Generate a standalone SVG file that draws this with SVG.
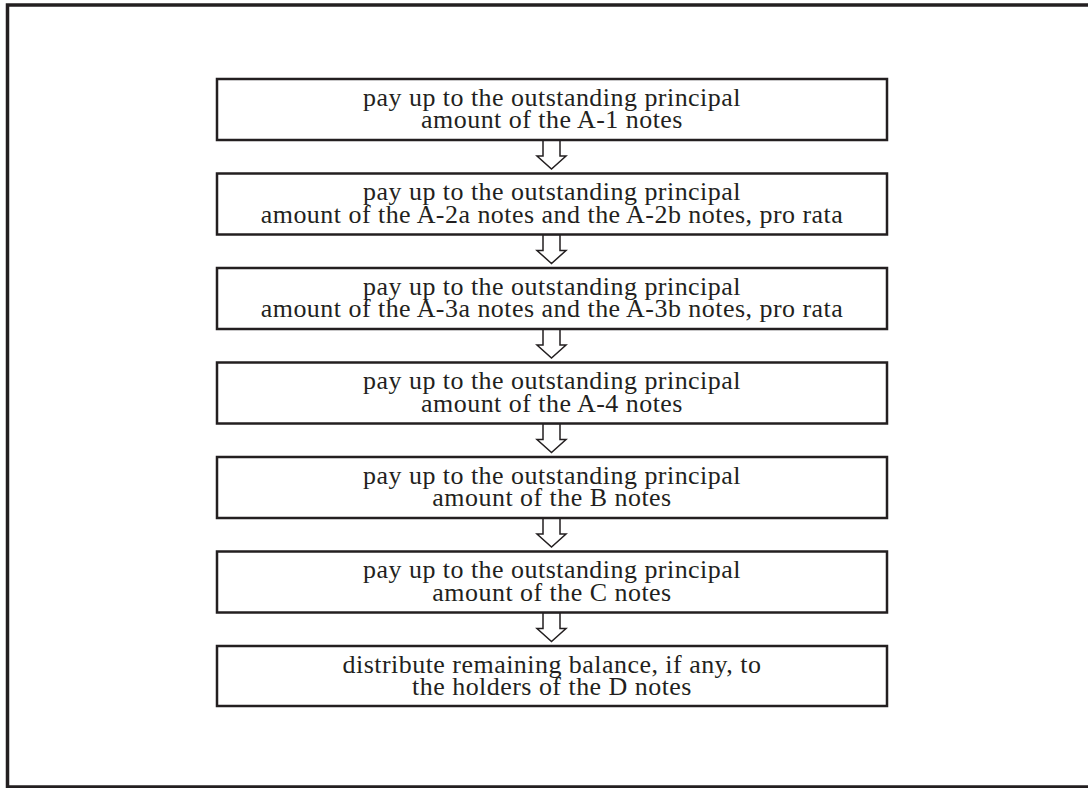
<svg xmlns="http://www.w3.org/2000/svg" width="1088" height="788" viewBox="0 0 1088 788">
<style>
.frame{fill:none;stroke:#231f20;stroke-width:3.5}
.box{fill:#fff;stroke:#231f20;stroke-width:2.5}
.arr{fill:#fff;stroke:#231f20;stroke-width:1.5;stroke-linejoin:miter}
text{font-family:'Liberation Serif','Times New Roman',Tinos,serif;font-size:24.5px;letter-spacing:0.45px;fill:#231f20;text-anchor:middle}
</style>
<rect width="1088" height="788" fill="#fff"/>
<path class="frame" d="M1088 5H7.5V787H1088"/>
<defs>
<path id="ar" d="M-8.5 0V16H-14.5L0 29L14.5 16H8.5V0Z"/>
</defs>
<g id="connectors">
<use href="#ar" class="arr" transform="translate(551.5,140)"/>
<use href="#ar" class="arr" transform="translate(551.5,234.5)"/>
<use href="#ar" class="arr" transform="translate(551.5,329)"/>
<use href="#ar" class="arr" transform="translate(551.5,423.5)"/>
<use href="#ar" class="arr" transform="translate(551.5,518)"/>
<use href="#ar" class="arr" transform="translate(551.5,612.5)"/>
</g>
<g id="n1">
<rect class="box" x="217" y="79" width="670" height="61"/>
<text transform="translate(552,105.5) scale(1.06,1)">pay up to the outstanding principal</text>
<text transform="translate(552,128.3) scale(1.06,1)">amount of the A-1 notes</text>
</g>
<g id="n2">
<rect class="box" x="217" y="173.5" width="670" height="61"/>
<text transform="translate(552,200) scale(1.06,1)">pay up to the outstanding principal</text>
<text transform="translate(552,222.8) scale(1.06,1)">amount of the A-2a notes and the A-2b notes, pro rata</text>
</g>
<g id="n3">
<rect class="box" x="217" y="268" width="670" height="61"/>
<text transform="translate(552,294.5) scale(1.06,1)">pay up to the outstanding principal</text>
<text transform="translate(552,317.3) scale(1.06,1)">amount of the A-3a notes and the A-3b notes, pro rata</text>
</g>
<g id="n4">
<rect class="box" x="217" y="362.5" width="670" height="61"/>
<text transform="translate(552,389) scale(1.06,1)">pay up to the outstanding principal</text>
<text transform="translate(552,411.8) scale(1.06,1)">amount of the A-4 notes</text>
</g>
<g id="n5">
<rect class="box" x="217" y="457" width="670" height="61"/>
<text transform="translate(552,483.5) scale(1.06,1)">pay up to the outstanding principal</text>
<text transform="translate(552,506.3) scale(1.06,1)">amount of the B notes</text>
</g>
<g id="n6">
<rect class="box" x="217" y="551.5" width="670" height="61"/>
<text transform="translate(552,578) scale(1.06,1)">pay up to the outstanding principal</text>
<text transform="translate(552,600.8) scale(1.06,1)">amount of the C notes</text>
</g>
<g id="n7">
<rect class="box" x="217" y="646" width="670" height="60"/>
<text transform="translate(552,672.5) scale(1.06,1)">distribute remaining balance, if any, to</text>
<text transform="translate(552,695.3) scale(1.06,1)">the holders of the D notes</text>
</g>
</svg>
